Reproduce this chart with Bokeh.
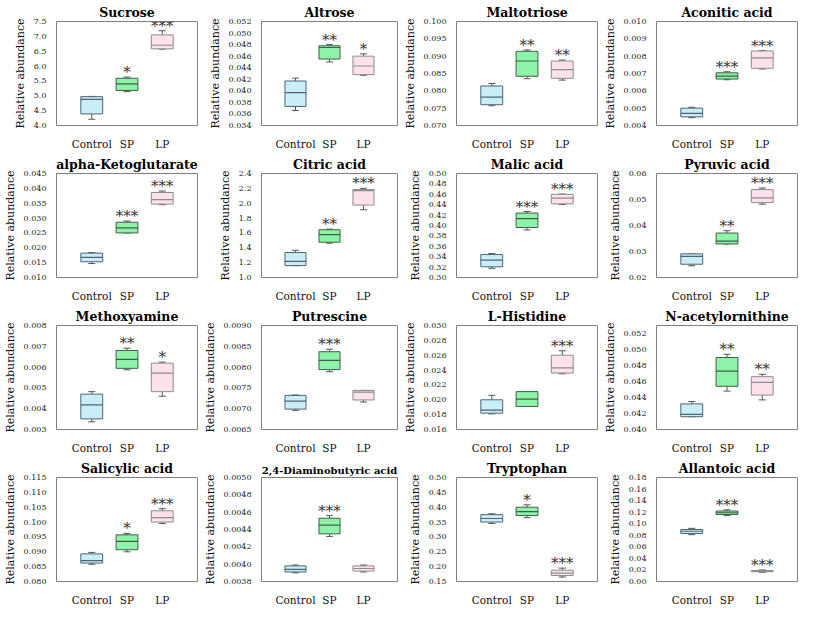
from bokeh.plotting import figure
from bokeh.layouts import gridplot
from bokeh.models import ColumnDataSource, FactorRange, Range1d, FixedTicker, PrintfTickFormatter
from bokeh.transform import dodge
from bokeh.core.properties import value
from bokeh.embed import file_html
from bokeh.resources import INLINE

groups = ["Control", "SP", "LP"]

metabolites = ["Sucrose", "Altrose", "Maltotriose", "Aconitic acid",
               "alpha-Ketoglutarate", "Citric acid", "Malic acid", "Pyruvic acid",
               "Methoxyamine", "Putrescine", "L-Histidine", "N-acetylornithine",
               "Salicylic acid", "2,4-Diaminobutyric acid", "Tryptophan", "Allantoic acid"]

lower_whisker = [
    [4.21, 5.14, 6.57], [0.0366, 0.0450, 0.0427], [0.0757, 0.0835, 0.0831], [0.00445, 0.00664, 0.00726],
    [0.0147, 0.0250, 0.0345], [1.16, 1.462, 1.912], [0.3177, 0.3915, 0.4404], [0.0245, 0.0329, 0.0482],
    [0.00337, 0.00587, 0.00460], [0.00696, 0.00789, 0.00716], [0.0181, 0.0191, 0.0235], [0.0416, 0.0448, 0.0437],
    [0.0858, 0.0900, 0.0995], [0.00390, 0.00432, 0.00391], [0.345, 0.365, 0.165], [0.081, 0.114, 0.016],
]
q1 = [
    [4.39, 5.18, 6.58], [0.0373, 0.0455, 0.0428], [0.0760, 0.0842, 0.0836], [0.00450, 0.00668, 0.00730],
    [0.0153, 0.0250, 0.0347], [1.16, 1.475, 1.975], [0.3206, 0.3962, 0.4416], [0.0251, 0.0329, 0.0488],
    [0.00351, 0.00594, 0.00482], [0.00699, 0.00794, 0.00721], [0.0182, 0.0191, 0.0236], [0.0416, 0.0454, 0.0443],
    [0.0862, 0.0907, 0.1000], [0.00391, 0.00435, 0.00392], [0.350, 0.372, 0.170], [0.083, 0.116, 0.017],
]
median = [
    [4.88, 5.40, 6.70], [0.0397, 0.0475, 0.0443], [0.0782, 0.0886, 0.0861], [0.00470, 0.00685, 0.00790],
    [0.0168, 0.0267, 0.0362], [1.218, 1.576, 2.17], [0.3336, 0.4133, 0.4528], [0.0281, 0.0340, 0.0506],
    [0.00418, 0.00637, 0.00571], [0.00718, 0.00816, 0.00740], [0.0186, 0.0201, 0.0243], [0.0419, 0.0473, 0.0459],
    [0.0870, 0.0935, 0.1015], [0.00394, 0.00445, 0.00395], [0.362, 0.385, 0.178], [0.087, 0.119, 0.018],
]
q3 = [
    [4.97, 5.59, 7.05], [0.0417, 0.0478, 0.0460], [0.0814, 0.0914, 0.0886], [0.00500, 0.00704, 0.00830],
    [0.0182, 0.0286, 0.0386], [1.336, 1.643, 2.185], [0.3442, 0.4239, 0.4599], [0.0291, 0.0371, 0.0538],
    [0.00470, 0.00680, 0.00619], [0.00732, 0.00837, 0.00744], [0.0200, 0.0211, 0.0260], [0.0432, 0.0490, 0.0466],
    [0.0893, 0.0957, 0.1038], [0.00398, 0.00453, 0.00398], [0.375, 0.400, 0.188], [0.090, 0.122, 0.019],
]
upper_whisker = [
    [4.98, 5.63, 7.19], [0.0422, 0.0480, 0.0464], [0.0821, 0.0918, 0.0889], [0.00505, 0.00710, 0.00832],
    [0.0184, 0.0290, 0.0391], [1.366, 1.651, 2.20], [0.3460, 0.4268, 0.4605], [0.0291, 0.0380, 0.0544],
    [0.00482, 0.00691, 0.00624], [0.00733, 0.00843, 0.00744], [0.0206, 0.0211, 0.0266], [0.0435, 0.0494, 0.0469],
    [0.0898, 0.0962, 0.1045], [0.00399, 0.00456, 0.00399], [0.378, 0.408, 0.195], [0.092, 0.124, 0.020],
]
stars = [
    ["", "*", "***"], ["", "**", "*"], ["", "**", "**"], ["", "***", "***"],
    ["", "***", "***"], ["", "**", "***"], ["", "***", "***"], ["", "**", "***"],
    ["", "**", "*"], ["", "***", ""], ["", "", "***"], ["", "**", "**"],
    ["", "*", "***"], ["", "***", ""], ["", "*", "***"], ["", "***", "***"],
]

y_min = [4.0, 0.034, 0.070, 0.004, 0.010, 1.0, 0.30, 0.02, 0.003, 0.0065, 0.016, 0.040, 0.080, 0.0038, 0.15, 0.00]
y_max = [7.5, 0.052, 0.100, 0.010, 0.045, 2.4, 0.50, 0.06, 0.008, 0.0090, 0.030, 0.053, 0.115, 0.0050, 0.50, 0.18]
y_step = [0.5, 0.002, 0.005, 0.001, 0.005, 0.2, 0.02, 0.01, 0.001, 0.0005, 0.002, 0.002, 0.005, 0.0002, 0.05, 0.02]
y_decimals = [1, 3, 3, 3, 3, 1, 2, 2, 3, 4, 3, 3, 3, 4, 2, 2]

FONT = "DejaVu Serif"
fills = ["#c9eefa", "#8ef2a9", "#fde2ee"]
edges = ["#4f6470", "#3f5f48", "#8c8c8c"]

figs = []
for i, name in enumerate(metabolites):
    xr = FactorRange(factors=groups, range_padding=0.5, range_padding_units="absolute")
    p = figure(width=200, height=152, x_range=xr, y_range=Range1d(y_min[i], y_max[i]),
               output_backend="svg", toolbar_location=None, title=name,
               min_border_left=2, min_border_right=3, min_border_top=0, min_border_bottom=2)
    p.title.align = "center"
    p.title.text_font = FONT
    p.title.text_font_size = "12.5px" if len(name) < 20 else "10px"
    p.title.text_font_style = "bold"
    p.title.text_color = "#000000"
    p.title.standoff = 4
    p.outline_line_color = "#7f7f7f"
    p.outline_line_width = 1
    p.xgrid.visible = False
    p.ygrid.visible = False

    n = int(round((y_max[i] - y_min[i]) / y_step[i] + 1e-9))
    ticks = [round(y_min[i] + k * y_step[i], 6) for k in range(n + 1) if y_min[i] + k * y_step[i] <= y_max[i] + 1e-12]
    p.yaxis.ticker = FixedTicker(ticks=ticks)
    p.yaxis.formatter = PrintfTickFormatter(format="%." + str(y_decimals[i]) + "f")
    p.yaxis.axis_label = "Relative abundance"
    p.yaxis.axis_label_text_font = FONT
    p.yaxis.axis_label_text_font_size = "11px"
    p.yaxis.axis_label_text_font_style = "normal"
    p.yaxis.axis_label_text_color = "#111111"
    p.yaxis.axis_label_standoff = 4
    p.yaxis.major_label_text_font = FONT
    p.yaxis.major_label_text_font_size = "8px"
    p.yaxis.major_label_text_color = "#222222"
    p.yaxis.major_label_standoff = 4
    p.yaxis.major_tick_line_color = None
    p.yaxis.minor_tick_line_color = None
    p.yaxis.axis_line_color = None

    p.xaxis.major_label_text_font = FONT
    p.xaxis.major_label_text_font_size = "10.5px"
    p.xaxis.major_label_text_color = "#111111"
    p.xaxis.major_label_standoff = 6
    p.xaxis.major_tick_line_color = None
    p.xaxis.axis_line_color = None

    src = ColumnDataSource(dict(x=groups, lo=lower_whisker[i], q1=q1[i], med=median[i],
                                q3=q3[i], hi=upper_whisker[i], star=stars[i],
                                fill=fills, edge=edges))
    p.segment(x0="x", y0="q3", x1="x", y1="hi", source=src, line_color="#555555", line_width=1)
    p.segment(x0="x", y0="q1", x1="x", y1="lo", source=src, line_color="#555555", line_width=1)
    p.segment(x0=dodge("x", -0.1, range=xr), y0="hi", x1=dodge("x", 0.1, range=xr), y1="hi",
              source=src, line_color="#555555", line_width=1)
    p.segment(x0=dodge("x", -0.1, range=xr), y0="lo", x1=dodge("x", 0.1, range=xr), y1="lo",
              source=src, line_color="#555555", line_width=1)
    p.vbar(x="x", width=0.62, bottom="q1", top="q3", source=src,
           fill_color="fill", line_color="edge", line_width=1)
    p.segment(x0=dodge("x", -0.31, range=xr), y0="med", x1=dodge("x", 0.31, range=xr), y1="med",
              source=src, line_color="edge", line_width=1.2)
    p.text(x="x", y="hi", text="star", source=src, text_font=value(FONT),
           text_font_size=value("15px"), text_align="center", text_baseline="bottom",
           y_offset=4, text_color="#333333")
    figs.append(p)

grid = gridplot(figs, ncols=4, toolbar_location=None)
open("out.html", "w").write(file_html(grid, INLINE))
